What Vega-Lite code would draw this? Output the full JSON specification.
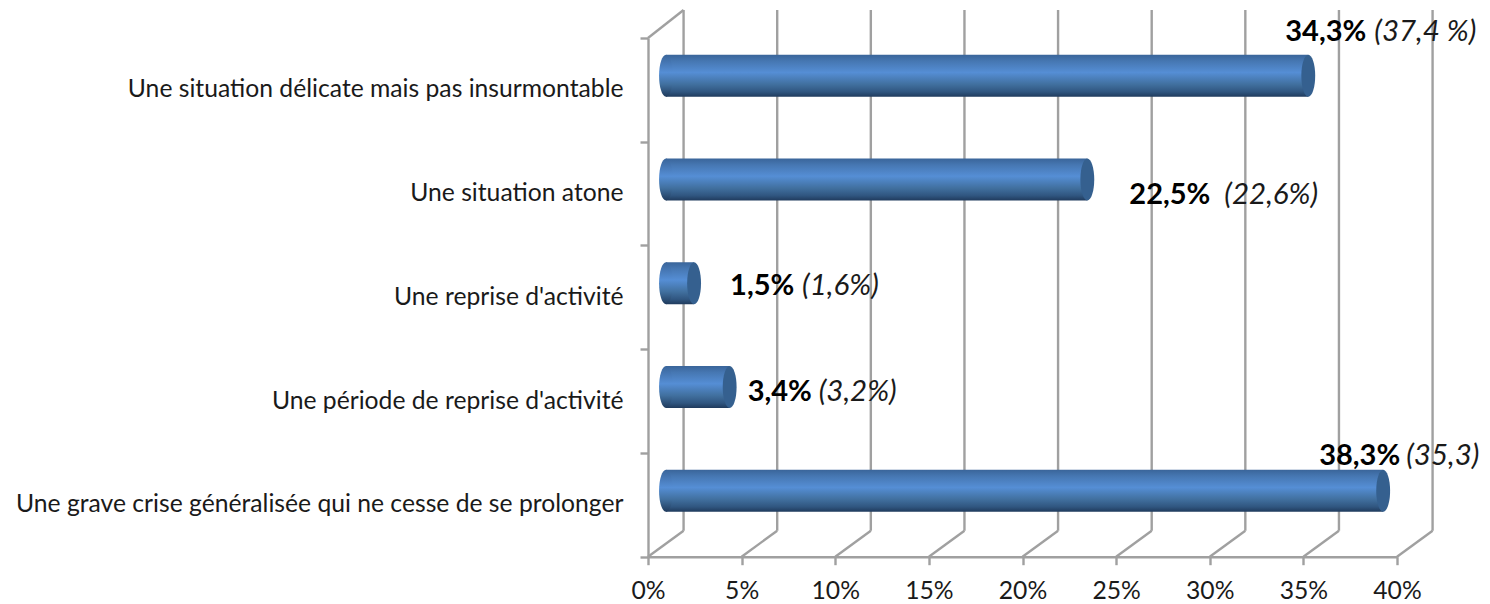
{
"$schema":"https://vega.github.io/schema/vega-lite/v6.json",
"width":749,"height":518.7,
"autosize":{"type":"none"},
"padding":{"left":648,"top":38,"right":93,"bottom":47.3},
"background":"white",
"config":{"view":{"stroke":null},"text":{"font":"Lato"}},
"datasets":{
"bars":[
{"label":"Une situation délicate mais pas insurmontable","value":34.3},
{"label":"Une situation atone","value":22.5},
{"label":"Une reprise d'activité","value":1.5},
{"label":"Une période de reprise d'activité","value":3.4},
{"label":"Une grave crise généralisée qui ne cesse de se prolonger","value":38.3}
],
"grid":[
{"x":0,"x2":1.9,"y":5,"y2":5.27},
{"x":0,"x2":1.9,"y":0,"y2":0.25},
{"x":5,"x2":6.9,"y":0,"y2":0.25},
{"x":10,"x2":11.9,"y":0,"y2":0.25},
{"x":15,"x2":16.9,"y":0,"y2":0.25},
{"x":20,"x2":21.9,"y":0,"y2":0.25},
{"x":25,"x2":26.9,"y":0,"y2":0.25},
{"x":30,"x2":31.9,"y":0,"y2":0.25},
{"x":35,"x2":36.9,"y":0,"y2":0.25},
{"x":40,"x2":41.9,"y":0,"y2":0.25},
{"x":1.9,"x2":1.9,"y":0.25,"y2":5.27},
{"x":6.9,"x2":6.9,"y":0.25,"y2":5.27},
{"x":11.9,"x2":11.9,"y":0.25,"y2":5.27},
{"x":16.9,"x2":16.9,"y":0.25,"y2":5.27},
{"x":21.9,"x2":21.9,"y":0.25,"y2":5.27},
{"x":26.9,"x2":26.9,"y":0.25,"y2":5.27},
{"x":31.9,"x2":31.9,"y":0.25,"y2":5.27},
{"x":36.9,"x2":36.9,"y":0.25,"y2":5.27},
{"x":41.9,"x2":41.9,"y":0.25,"y2":5.27}
]
},
"encoding":{"x":{"field":"x","type":"quantitative","scale":{"domain":[0,40],"nice":false,"zero":false},
"axis":{"title":null,"values":[0,5,10,15,20,25,30,35,40],"grid":false,"labelExpr":"datum.value+'%'","tickSize":8,"tickWidth":2.4,"tickColor":"#a0a0a0","domainColor":"#a0a0a0","domainWidth":2.4,"labelFont":"Lato","labelFontSize":24.7,"labelColor":"#1a1a1a","labelPadding":14,"labelFlush":false}}},
"layer":[
{"data":{"name":"grid"},
"mark":{"type":"rule","stroke":"#a0a0a0","strokeWidth":2.4},
"encoding":{
"x":{"field":"x","type":"quantitative"},
"x2":{"field":"x2"},
"y":{"field":"y","type":"quantitative","scale":{"domain":[0,5],"nice":false,"zero":false},"axis":null},
"y2":{"field":"y2"}}},
{"encoding":{"y":{"field":"label","type":"nominal","sort":null,"scale":{"domain":["Une situation délicate mais pas insurmontable","Une situation atone","Une reprise d'activité","Une période de reprise d'activité","Une grave crise généralisée qui ne cesse de se prolonger"],"paddingInner":0,"paddingOuter":0},
"axis":{"title":null,"tickBand":"extent","tickSize":8,"tickWidth":2.4,"tickColor":"#a0a0a0","domainColor":"#a0a0a0","domainWidth":2.4,"labelFont":"Lato","labelFontSize":24.7,"labelColor":"#1a1a1a","labelPadding":17,"labelLimit":700}},
"x":{"field":"value","type":"quantitative"}},
"layer":[
{"data":{"name":"bars"},
"mark":{"type":"bar","size":42,"xOffset":18,"x2Offset":18,"yOffset":-14,
"color":{"gradient":"linear","x1":0,"y1":0,"x2":0,"y2":1,"stops":[{"offset":0,"color":"#3a659a"},{"offset":0.15,"color":"#4677b2"},{"offset":0.42,"color":"#558ed5"},{"offset":0.7,"color":"#41709f"},{"offset":0.88,"color":"#305680"},{"offset":1,"color":"#1f3a5c"}]}},
"encoding":{"x2":{"datum":0}}},
{"data":{"name":"bars"},
"mark":{"type":"point","filled":true,"opacity":1,"shape":"M -0.33 0 A 0.33 1 0 0 1 0.33 0 A 0.33 1 0 0 1 -0.33 0 Z","size":1764,"xOffset":18,"yOffset":-14,
"color":{"gradient":"linear","x1":0,"y1":0,"x2":0,"y2":1,"stops":[{"offset":0,"color":"#3a659a"},{"offset":0.42,"color":"#558ed5"},{"offset":0.7,"color":"#41709f"},{"offset":1,"color":"#1f3a5c"}]}},
"encoding":{"x":{"datum":0}}},
{"data":{"name":"bars"},
"mark":{"type":"point","filled":true,"opacity":1,"color":"#35608f","shape":"M -0.33 0 A 0.33 1 0 0 1 0.33 0 A 0.33 1 0 0 1 -0.33 0 Z","size":1764,"xOffset":18,"yOffset":-14}},
{"data":{"values":[{"label":"Une situation délicate mais pas insurmontable","value":34.3,"t":"34,3%"}]},"mark":{"type":"text","font":"Lato","fontSize":29,"fontWeight":"bold","color":"#000","align":"left","dx":-5,"dy":-58},"encoding":{"text":{"field":"t"}}},
{"data":{"values":[{"label":"Une situation délicate mais pas insurmontable","value":34.3,"t":"(37,4 %)"}]},"mark":{"type":"text","font":"Lato","fontSize":29.5,"fontStyle":"italic","color":"#1a1a1a","align":"left","dx":84,"dy":-58},"encoding":{"text":{"field":"t"}}},
{"data":{"values":[{"label":"Une situation atone","value":22.5,"t":"22,5%"}]},"mark":{"type":"text","font":"Lato","fontSize":29,"fontWeight":"bold","color":"#000","align":"left","dx":60,"dy":1},"encoding":{"text":{"field":"t"}}},
{"data":{"values":[{"label":"Une situation atone","value":22.5,"t":"(22,6%)"}]},"mark":{"type":"text","font":"Lato","fontSize":29.5,"fontStyle":"italic","color":"#1a1a1a","align":"left","dx":155,"dy":1},"encoding":{"text":{"field":"t"}}},
{"data":{"values":[{"label":"Une reprise d'activité","value":1.5,"t":"1,5%"}]},"mark":{"type":"text","font":"Lato","fontSize":29,"fontWeight":"bold","color":"#000","align":"left","dx":54,"dy":-11},"encoding":{"text":{"field":"t"}}},
{"data":{"values":[{"label":"Une reprise d'activité","value":1.5,"t":"(1,6%)"}]},"mark":{"type":"text","font":"Lato","fontSize":29.5,"fontStyle":"italic","color":"#1a1a1a","align":"left","dx":126,"dy":-11},"encoding":{"text":{"field":"t"}}},
{"data":{"values":[{"label":"Une période de reprise d'activité","value":3.4,"t":"3,4%"}]},"mark":{"type":"text","font":"Lato","fontSize":29,"fontWeight":"bold","color":"#000","align":"left","dx":36,"dy":-9},"encoding":{"text":{"field":"t"}}},
{"data":{"values":[{"label":"Une période de reprise d'activité","value":3.4,"t":"(3,2%)"}]},"mark":{"type":"text","font":"Lato","fontSize":29.5,"fontStyle":"italic","color":"#1a1a1a","align":"left","dx":107,"dy":-9},"encoding":{"text":{"field":"t"}}},
{"data":{"values":[{"label":"Une grave crise généralisée qui ne cesse de se prolonger","value":38.3,"t":"38,3%"}]},"mark":{"type":"text","font":"Lato","fontSize":29,"fontWeight":"bold","color":"#000","align":"left","dx":-46,"dy":-49},"encoding":{"text":{"field":"t"}}},
{"data":{"values":[{"label":"Une grave crise généralisée qui ne cesse de se prolonger","value":38.3,"t":"(35,3)"}]},"mark":{"type":"text","font":"Lato","fontSize":29.5,"fontStyle":"italic","color":"#1a1a1a","align":"left","dx":41,"dy":-49},"encoding":{"text":{"field":"t"}}}
]}
],
"resolve":{"scale":{"y":"independent"}}
}
